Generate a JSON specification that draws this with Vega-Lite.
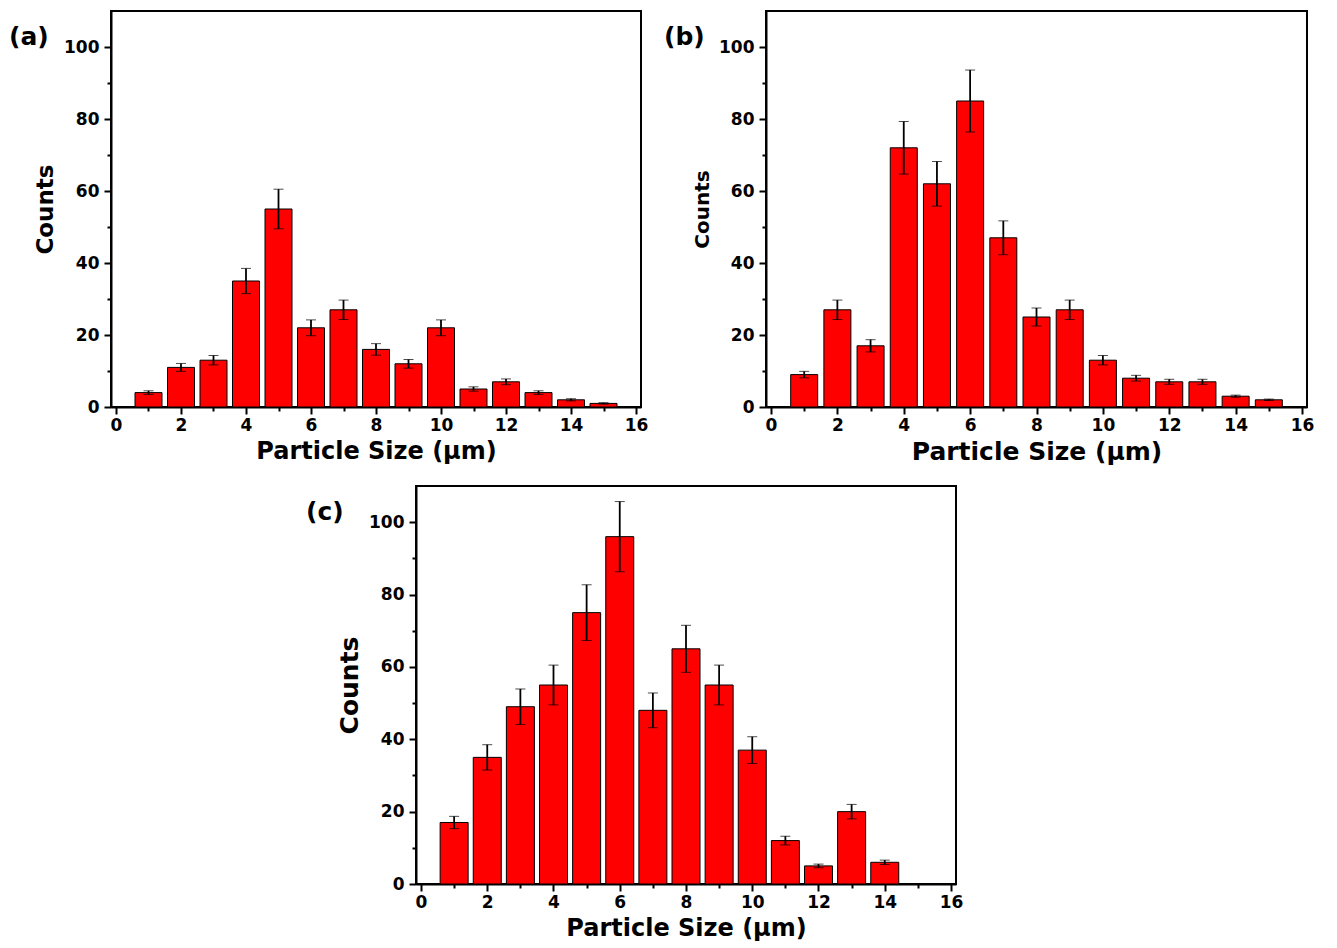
{
  "$schema": "https://vega.github.io/schema/vega-lite/v6.json",
  "padding": {"left": 8, "top": 10, "right": 10, "bottom": 5},
  "background": "white",
  "datasets": {
    "a": [
      {"size": 1, "count": 4, "err": 0.5},
      {"size": 2, "count": 11, "err": 1.1},
      {"size": 3, "count": 13, "err": 1.3},
      {"size": 4, "count": 35, "err": 3.5},
      {"size": 5, "count": 55, "err": 5.5},
      {"size": 6, "count": 22, "err": 2.2},
      {"size": 7, "count": 27, "err": 2.7},
      {"size": 8, "count": 16, "err": 1.6},
      {"size": 9, "count": 12, "err": 1.2},
      {"size": 10, "count": 22, "err": 2.2},
      {"size": 11, "count": 5, "err": 0.6},
      {"size": 12, "count": 7, "err": 0.8},
      {"size": 13, "count": 4, "err": 0.5},
      {"size": 14, "count": 2, "err": 0.3},
      {"size": 15, "count": 1, "err": 0.2}
    ],
    "b": [
      {"size": 1, "count": 9, "err": 0.9},
      {"size": 2, "count": 27, "err": 2.7},
      {"size": 3, "count": 17, "err": 1.7},
      {"size": 4, "count": 72, "err": 7.3},
      {"size": 5, "count": 62, "err": 6.2},
      {"size": 6, "count": 85, "err": 8.6},
      {"size": 7, "count": 47, "err": 4.7},
      {"size": 8, "count": 25, "err": 2.5},
      {"size": 9, "count": 27, "err": 2.7},
      {"size": 10, "count": 13, "err": 1.3},
      {"size": 11, "count": 8, "err": 0.8},
      {"size": 12, "count": 7, "err": 0.7},
      {"size": 13, "count": 7, "err": 0.7},
      {"size": 14, "count": 3, "err": 0.3},
      {"size": 15, "count": 2, "err": 0.2}
    ],
    "c": [
      {"size": 1, "count": 17, "err": 1.7},
      {"size": 2, "count": 35, "err": 3.5},
      {"size": 3, "count": 49, "err": 4.9},
      {"size": 4, "count": 55, "err": 5.5},
      {"size": 5, "count": 75, "err": 7.7},
      {"size": 6, "count": 96, "err": 9.7},
      {"size": 7, "count": 48, "err": 4.8},
      {"size": 8, "count": 65, "err": 6.5},
      {"size": 9, "count": 55, "err": 5.5},
      {"size": 10, "count": 37, "err": 3.7},
      {"size": 11, "count": 12, "err": 1.2},
      {"size": 12, "count": 5, "err": 0.5},
      {"size": 13, "count": 20, "err": 2.0},
      {"size": 14, "count": 6, "err": 0.6}
    ]
  },
  "spacing": 20,
  "vconcat": [
    {
      "hconcat": [
        {
          "width": 530, "height": 396,
          "title": {"text": "(a)", "anchor": "start", "frame": "group", "dx": -102, "dy": 43, "fontSize": 25, "font": "DejaVu Sans", "fontWeight": "bold", "color": "black"},
          "data": {"name": "a"},
          "encoding": {
            "x": {"field": "size", "type": "quantitative", "scale": {"domain": [0, 16], "nice": false}, "title": "Particle Size (µm)",
              "axis": {"values": [0,1,2,3,4,5,6,7,8,9,10,11,12,13,14,15,16], "labelExpr": "datum.value % 2 === 0 ? datum.label : ''", "tickSize": {"condition": {"test": "datum.value % 2 === 0", "value": 7}, "value": 4}}},
            "y": {"field": "count", "type": "quantitative", "scale": {"domain": [0, 110], "nice": false}, "title": "Counts",
              "axis": {"values": [0,10,20,30,40,50,60,70,80,90,100], "labelExpr": "datum.value % 20 === 0 ? datum.label : ''", "tickSize": {"condition": {"test": "datum.value % 20 === 0", "value": 7}, "value": 4}}}
          },
          "layer": [
            {"mark": {"type": "bar", "width": 27, "fill": "#ff0000", "stroke": "black", "strokeWidth": 1}},
            {"mark": {"type": "errorbar", "color": "black", "ticks": {"size": 10, "strokeWidth": 1.8}, "rule": {"strokeWidth": 1.8}},
              "encoding": {"yError": {"field": "err"}}}
          ]
        },
        {
          "width": 541, "height": 396,
          "title": {"text": "(b)", "anchor": "start", "frame": "group", "dx": -102, "dy": 43, "fontSize": 25, "font": "DejaVu Sans", "fontWeight": "bold", "color": "black"},
          "data": {"name": "b"},
          "encoding": {
            "x": {"field": "size", "type": "quantitative", "scale": {"domain": [0, 16], "nice": false}, "title": "Particle Size (µm)",
              "axis": {"values": [0,1,2,3,4,5,6,7,8,9,10,11,12,13,14,15,16], "labelExpr": "datum.value % 2 === 0 ? datum.label : ''", "tickSize": {"condition": {"test": "datum.value % 2 === 0", "value": 7}, "value": 4}, "titleFontSize": 25}},
            "y": {"field": "count", "type": "quantitative", "scale": {"domain": [0, 110], "nice": false}, "title": "Counts",
              "axis": {"values": [0,10,20,30,40,50,60,70,80,90,100], "labelExpr": "datum.value % 20 === 0 ? datum.label : ''", "tickSize": {"condition": {"test": "datum.value % 20 === 0", "value": 7}, "value": 4}, "titleFontSize": 20}}
          },
          "layer": [
            {"mark": {"type": "bar", "width": 27, "fill": "#ff0000", "stroke": "black", "strokeWidth": 1}},
            {"mark": {"type": "errorbar", "color": "black", "ticks": {"size": 10, "strokeWidth": 1.8}, "rule": {"strokeWidth": 1.8}},
              "encoding": {"yError": {"field": "err"}}}
          ]
        }
      ],
      "spacing": 125,
      "bounds": "flush"
    },
    {
      "hconcat": [
        {
          "width": 295, "height": 398,
          "view": {"stroke": null},
          "data": {"values": [{}]},
          "mark": {"type": "point", "opacity": 0},
          "encoding": {}
        },
        {
          "width": 540, "height": 398,
          "title": {"text": "(c)", "anchor": "start", "frame": "group", "dx": -110, "dy": 43, "fontSize": 25, "font": "DejaVu Sans", "fontWeight": "bold", "color": "black"},
          "data": {"name": "c"},
          "encoding": {
            "x": {"field": "size", "type": "quantitative", "scale": {"domain": [0, 16], "nice": false}, "title": "Particle Size (µm)",
              "axis": {"values": [0,1,2,3,4,5,6,7,8,9,10,11,12,13,14,15,16], "labelExpr": "datum.value % 2 === 0 ? datum.label : ''", "tickSize": {"condition": {"test": "datum.value % 2 === 0", "value": 7}, "value": 4}}},
            "y": {"field": "count", "type": "quantitative", "scale": {"domain": [0, 110], "nice": false}, "title": "Counts",
              "axis": {"values": [0,10,20,30,40,50,60,70,80,90,100], "labelExpr": "datum.value % 20 === 0 ? datum.label : ''", "tickSize": {"condition": {"test": "datum.value % 20 === 0", "value": 7}, "value": 4}, "titleFontSize": 25}}
          },
          "layer": [
            {"mark": {"type": "bar", "width": 28, "fill": "#ff0000", "stroke": "black", "strokeWidth": 1}},
            {"mark": {"type": "errorbar", "color": "black", "ticks": {"size": 10, "strokeWidth": 1.8}, "rule": {"strokeWidth": 1.8}},
              "encoding": {"yError": {"field": "err"}}}
          ]
        }
      ],
      "spacing": 10,
      "bounds": "flush"
    }
  ],
  "config": {
    "view": {"stroke": "black", "strokeWidth": 2},
    "axis": {
      "domainColor": "black", "domainWidth": 2, "tickColor": "black", "tickWidth": 2,
      "labelColor": "black", "labelFont": "DejaVu Sans", "labelFontWeight": "bold", "labelFontSize": 17, "labelPadding": 3,
      "labelFlush": false, "labelOverlap": false,
      "titleColor": "black", "titleFont": "DejaVu Sans", "titleFontWeight": "bold", "grid": false
    },
    "axisX": {"titleFontSize": 24, "titlePadding": 6},
    "axisY": {"titleFontSize": 23, "titlePadding": 6, "labelPadding": 5}
  }
}
